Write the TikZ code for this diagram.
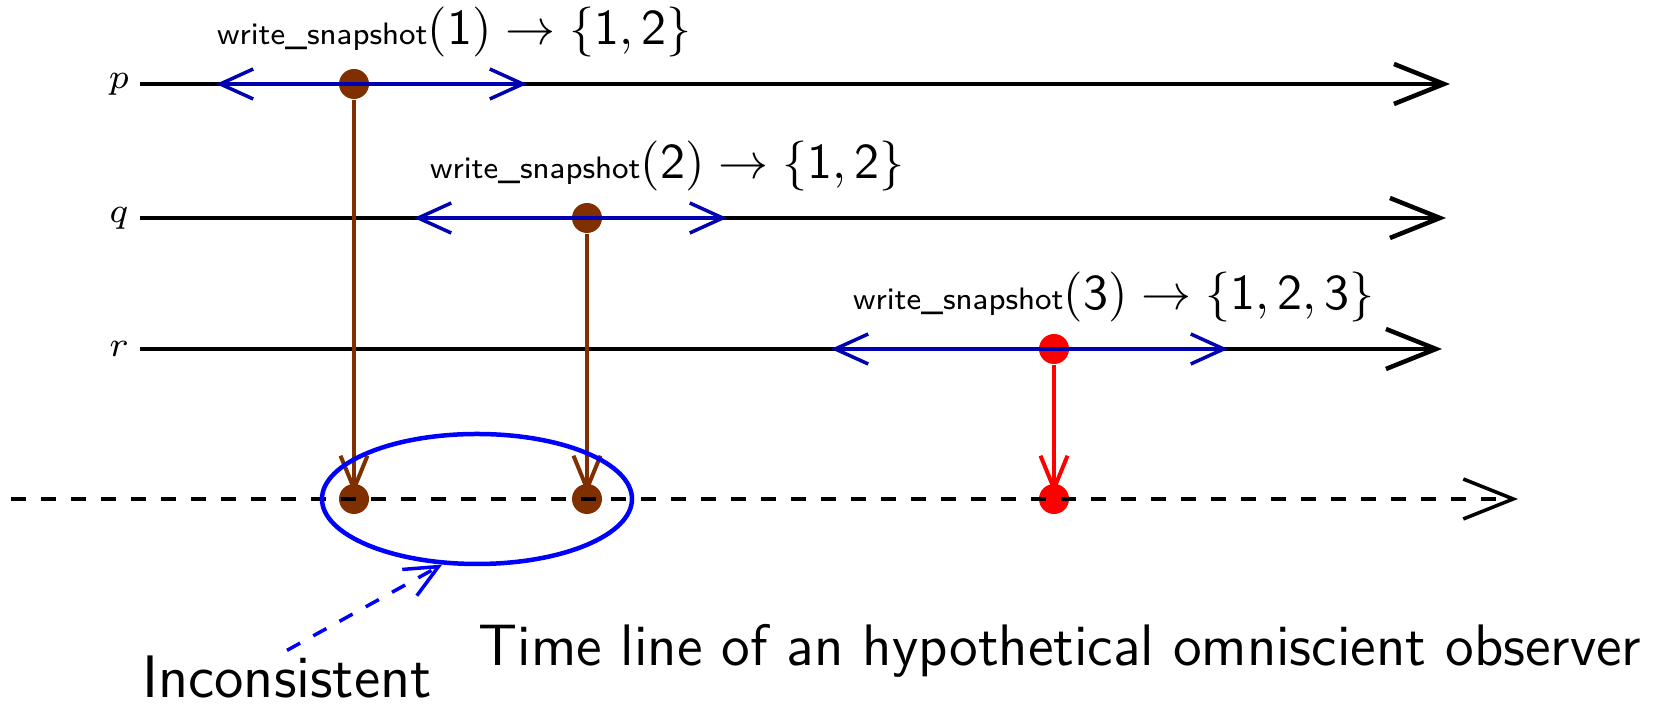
\documentclass[tikz,border=0pt]{standalone}
\usetikzlibrary{arrows.meta,shapes.geometric}

\definecolor{evbrown}{RGB}{128,48,0}
\definecolor{opblue}{RGB}{0,0,176}
\newcommand{\opname}{{\fontsize{6.2}{7}\selectfont write\_snapshot}}

\begin{document}
\begin{tikzpicture}[
  x=0.2pt,y=0.2pt,font=\sffamily,
  timeline/.style={line width=0.9pt, -{Straight Barb[length=10pt,width=8pt]}},
  opspan/.style={draw=opblue, line width=0.7pt, {Straight Barb[length=6.6pt,width=6pt]}-{Straight Barb[length=6.6pt,width=6pt]}},
  evdot/.style={circle, fill=#1, inner sep=0pt, minimum size=6pt},
  evdot/.default=evbrown,
  proj/.style={line width=0.8pt, shorten >=-2.2pt, -{Straight Barb[length=6.6pt,width=5.4pt]}},
  proclabel/.style={font=\scriptsize, inner sep=2pt},
  snaplabel/.style={anchor=base west, inner sep=0pt},
]
\useasboundingbox (0,0) rectangle (1653,704);

% the three processes
\node[proclabel] (p) at (119,620) {$p$};
\node[proclabel] (q) at (119,486) {$q$};
\node[proclabel] (r) at (119,355) {$r$};
\coordinate (pend) at (1450,620);
\coordinate (qend) at (1446,486);
\coordinate (rend) at (1442,355);
\draw[timeline] (p.east) -- (pend);
\draw[timeline] (q.east) -- (qend);
\draw[timeline] (r.east) -- (rend);

% linearization points
\node[evdot] (wp) at (354,620) {};
\node[evdot] (wq) at (587,486) {};
\node[evdot=red] (wr) at (1054,355) {};

% operation intervals
\coordinate (ps) at (216,620); \coordinate (pe) at (527,620);
\coordinate (qs) at (414,486); \coordinate (qe) at (727,486);
\coordinate (rs) at (831,355); \coordinate (re) at (1228,355);
\draw[opspan] (ps) -- (pe);
\draw[opspan] (qs) -- (qe);
\draw[opspan] (rs) -- (re);

\node[snaplabel] (snapp) at (216,659) {\opname$(\mathsf{1})\rightarrow\{\mathsf{1},\mathsf{2}\}$};
\node[snaplabel] (snapq) at (429,525) {\opname$(\mathsf{2})\rightarrow\{\mathsf{1},\mathsf{2}\}$};
\node[snaplabel] (snapr) at (852,394) {\opname$(\mathsf{3})\rightarrow\{\mathsf{1},\mathsf{2},\mathsf{3}\}$};

% observer time line
\node[evdot] (op) at (354,205) {};
\node[evdot] (oq) at (587,205) {};
\node[evdot=red] (or) at (1054,205) {};
\coordinate (obss) at (11,205);
\coordinate (obse) at (1518,205);
\draw[timeline, dashed, line width=0.7pt] (obss) -- (obse);

\draw[proj, evbrown] (wp) -- (op);
\draw[proj, evbrown] (wq) -- (oq);
\draw[proj, red] (wr) -- (or);

\node[draw=blue, ellipse, line width=0.9pt, minimum width=62pt, minimum height=26pt, inner sep=0pt] (incons) at (477,205) {};

\node[inner sep=1pt, anchor=base] (inclabel) at (287,6) {\large Inconsistent};
\draw[blue, dashed, line width=0.7pt, -{Straight Barb[length=6.6pt,width=6pt]}] (inclabel.north) -- (incons.242);

\node[anchor=base] (obslabel) at (1060,38) {\fontsize{11.7}{14}\selectfont Time line of an hypothetical omniscient observer};
\end{tikzpicture}
\end{document}
